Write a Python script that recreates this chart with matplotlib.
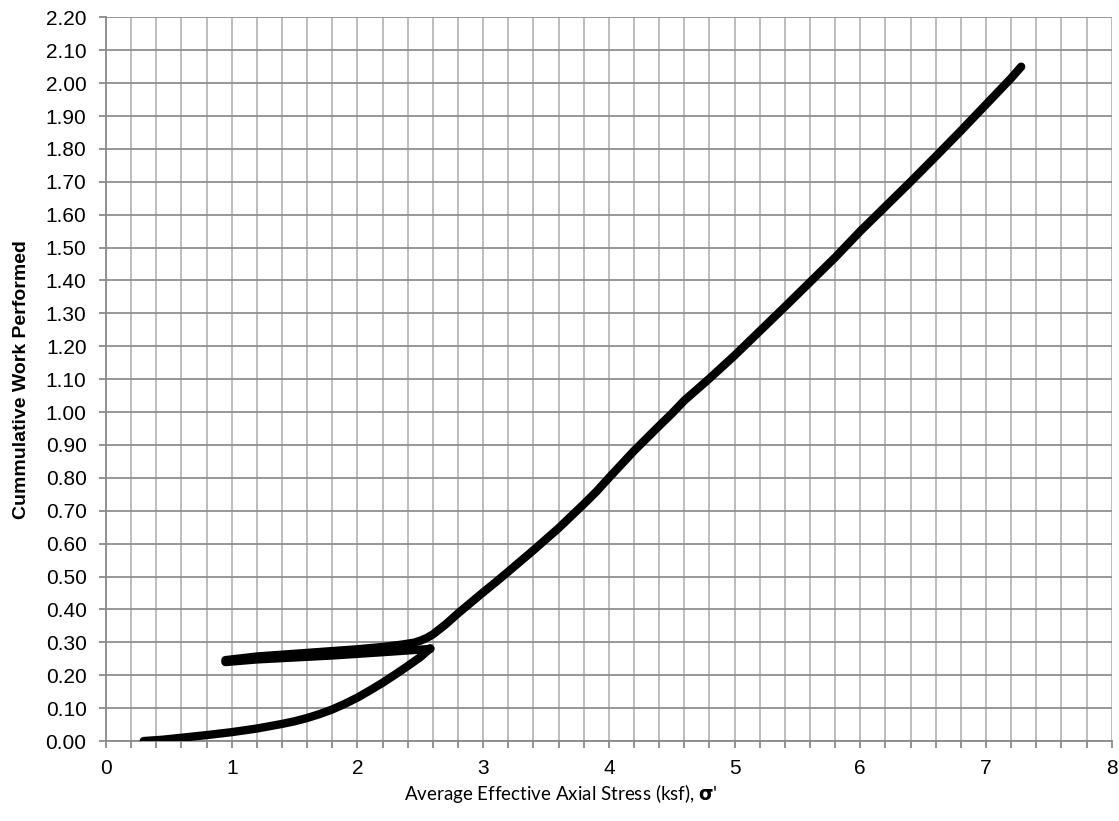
import matplotlib
matplotlib.use('Agg')
import matplotlib.pyplot as plt
from matplotlib.ticker import MultipleLocator, FormatStrFormatter

plt.rcParams['font.family'] = 'Liberation Sans'

# loading branch
x_load = [0.30, 0.45, 0.60, 0.80, 1.00, 1.20, 1.40, 1.50, 1.60, 1.70, 1.80, 1.90, 2.00, 2.10,
          2.20, 2.30, 2.40, 2.50, 2.58]
y_load = [0.000, 0.004, 0.010, 0.018, 0.027, 0.038, 0.052, 0.060, 0.070, 0.082, 0.096, 0.113,
          0.132, 0.154, 0.177, 0.202, 0.228, 0.255, 0.282]

# unloading back to ~1 ksf
x_unload = [2.58, 2.20, 1.80, 1.40, 1.20, 0.95]
y_unload = [0.280, 0.270, 0.260, 0.252, 0.248, 0.240]

# reloading and on up
x_reload = [0.95, 1.20, 1.60, 2.00, 2.20, 2.35, 2.45, 2.50, 2.55, 2.60, 2.70, 2.80, 2.90, 3.00,
            3.10, 3.20, 3.40, 3.60, 3.80, 3.90, 4.00, 4.20, 4.40, 4.50, 4.60, 4.80, 5.00, 5.20,
            5.40, 5.60, 5.80, 6.00, 6.20, 6.40, 6.60, 6.80, 7.00, 7.20, 7.28]
y_reload = [0.246, 0.257, 0.268, 0.279, 0.286, 0.293, 0.299, 0.305, 0.313, 0.324, 0.354, 0.388,
            0.420, 0.452, 0.483, 0.515, 0.580, 0.647, 0.720, 0.758, 0.800, 0.882, 0.958, 0.995,
            1.035, 1.102, 1.172, 1.246, 1.320, 1.395, 1.470, 1.550, 1.625, 1.700, 1.777, 1.855,
            1.935, 2.015, 2.050]

fig = plt.figure(figsize=(11.19, 8.21), dpi=100)
ax = fig.add_axes([0.0947, 0.0974, 0.8988, 0.8815])

for xs, ys in [(x_load, y_load), (x_unload, y_unload), (x_reload, y_reload)]:
    ax.plot(xs, ys, color='black', lw=6, solid_capstyle='round', solid_joinstyle='round', zorder=3)

ax.set_xlim(0, 8)
ax.set_ylim(0, 2.2)
ax.xaxis.set_major_locator(MultipleLocator(1))
ax.xaxis.set_minor_locator(MultipleLocator(0.2))
ax.yaxis.set_major_locator(MultipleLocator(0.1))
ax.yaxis.set_major_formatter(FormatStrFormatter('%.2f'))

ax.grid(True, which='both', axis='x', color='#b8b8b8', lw=1.3)
ax.grid(True, which='major', axis='y', color='#8f8f8f', lw=1.3)
ax.set_axisbelow(True)

for s in ['top', 'right']:
    ax.spines[s].set_visible(False)
ax.spines['left'].set_color('#8a8a8a')
ax.spines['bottom'].set_color('#8a8a8a')
ax.spines['left'].set_linewidth(1.3)
ax.spines['bottom'].set_linewidth(1.3)

ax.tick_params(axis='both', which='both', direction='out', length=5, width=1.3, color='#8a8a8a',
               labelsize=15)
ax.tick_params(axis='x', which='major', pad=8)
ax.tick_params(axis='y', which='major', pad=9)

ax.set_xlabel("Average Effective Axial Stress (ksf), $\\mathbf{\\sigma}$'", fontsize=13.5,
              family='Lato')
ax.xaxis.set_label_coords(0.452, -0.057)
ax.set_ylabel('Cummulative Work Performed', fontsize=14, fontweight='bold')
ax.yaxis.set_label_coords(-0.076, 0.5)

fig.savefig('out.png', dpi=100)
